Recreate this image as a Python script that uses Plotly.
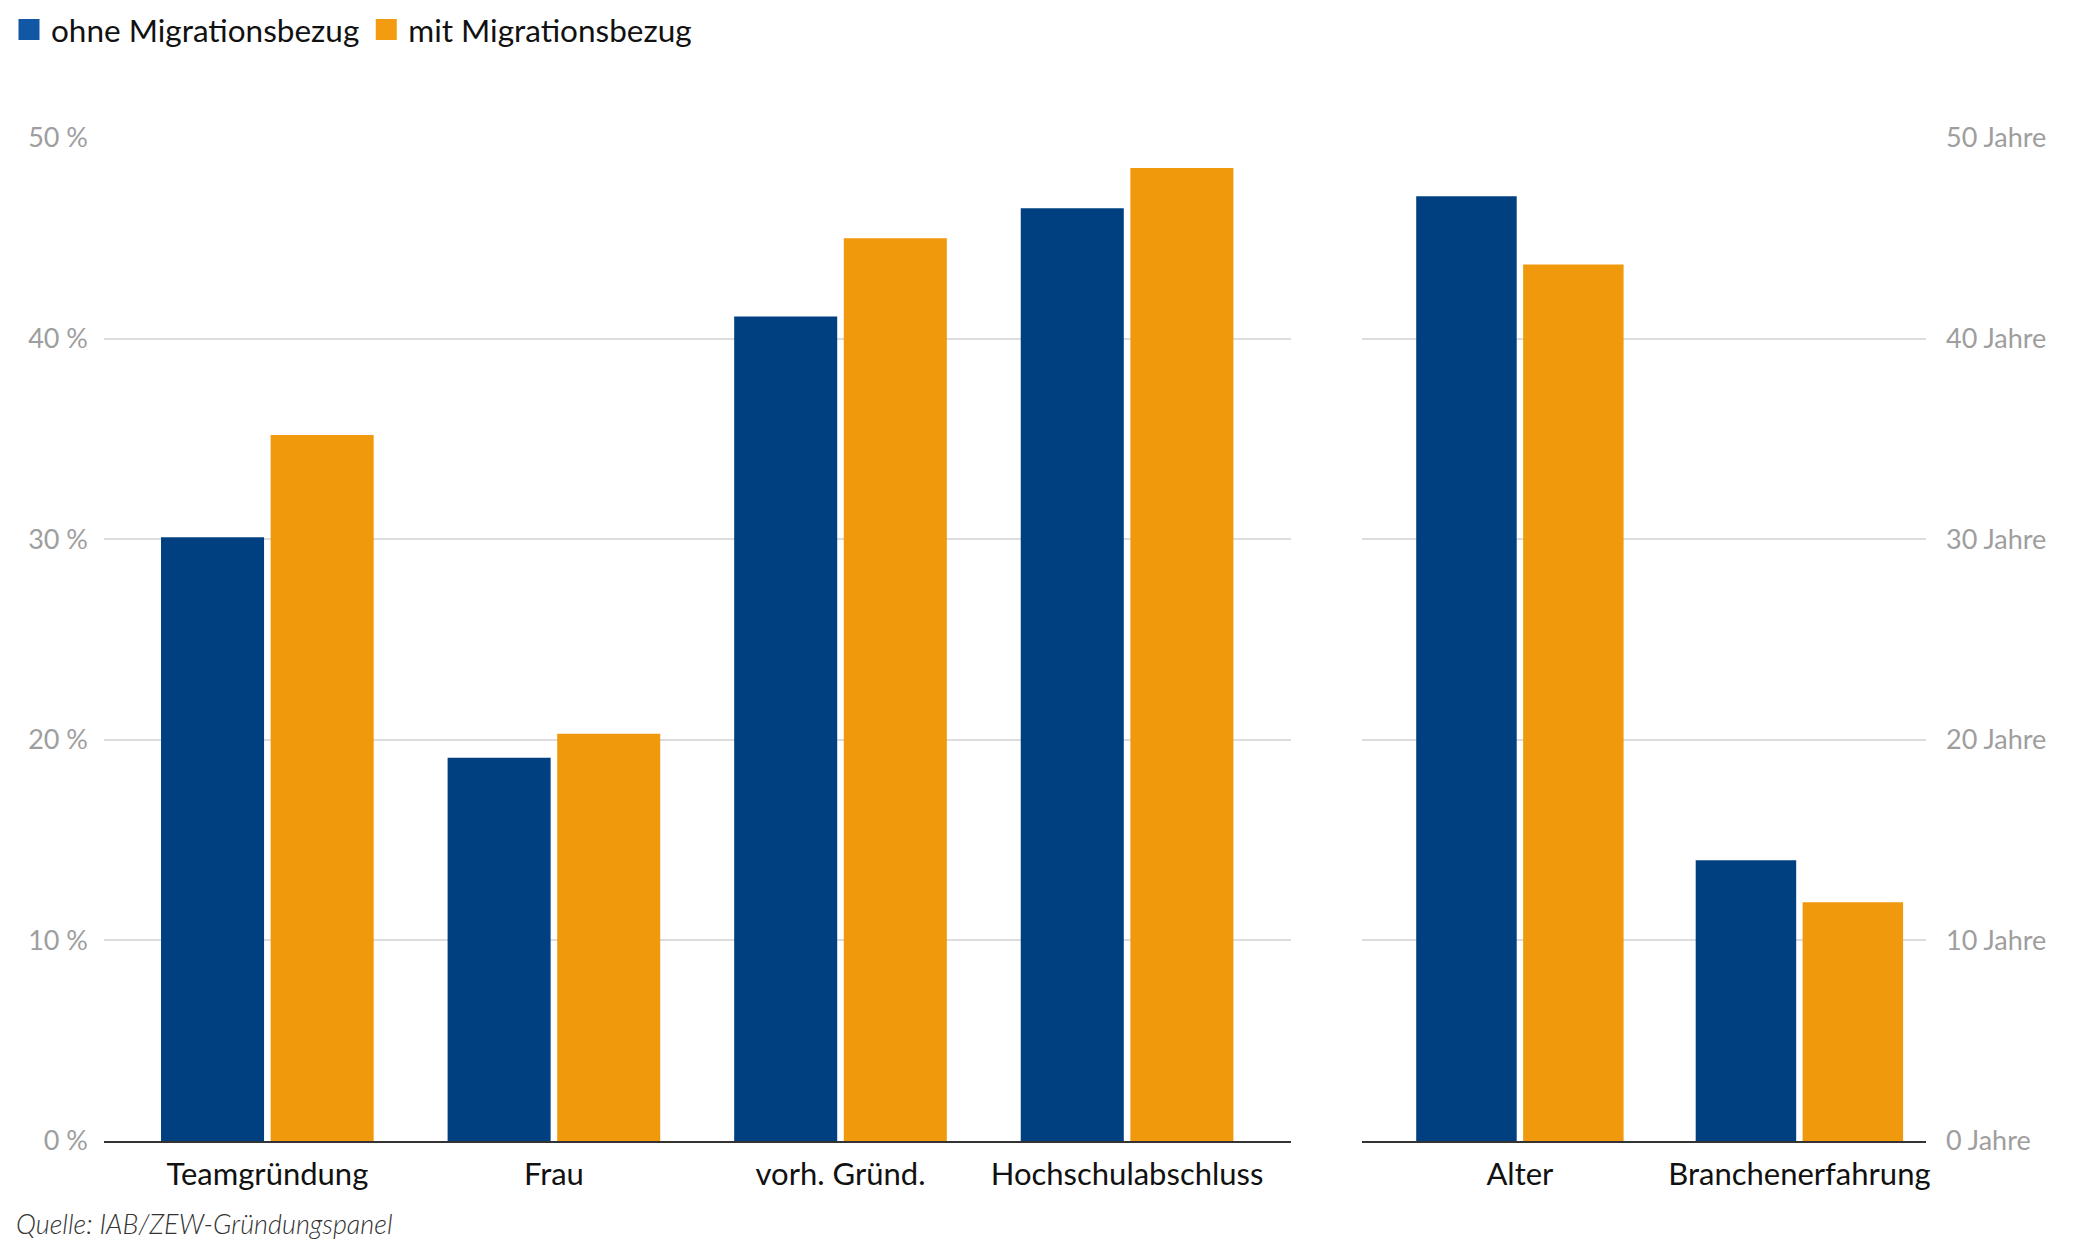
import plotly.graph_objects as go

# Data
cat_pct = ["Teamgründung", "Frau", "vorh. Gründ.", "Hochschulabschluss"]
ohne_pct = [30.1, 19.1, 41.1, 46.5]
mit_pct = [35.2, 20.3, 45.0, 48.5]

cat_jahre = ["Alter", "Branchenerfahrung"]
ohne_jahre = [47.1, 14.0]
mit_jahre = [43.7, 11.9]

series_names = ["ohne Migrationsbezug", "mit Migrationsbezug"]
y_ticks = [0, 10, 20, 30, 40, 50]
y_ticktext_pct = [f"{v} %" for v in y_ticks]
y_ticktext_jahre = [f"{v} Jahre" for v in y_ticks]
source_text = "Quelle: IAB/ZEW-Gründungspanel"

BLUE = "#004080"
ORANGE = "#f0990d"
LEG_BLUE = "#1256a6"
LEG_ORANGE = "#f39c12"
FONT = "Lato"

fig = go.Figure()

fig.add_trace(go.Bar(x=cat_pct, y=ohne_pct, name=series_names[0], marker_color=BLUE,
                     marker_line_width=0, showlegend=False, xaxis="x", yaxis="y"))
fig.add_trace(go.Bar(x=cat_pct, y=mit_pct, name=series_names[1], marker_color=ORANGE,
                     marker_line_width=0, showlegend=False, xaxis="x", yaxis="y"))
fig.add_trace(go.Bar(x=cat_jahre, y=ohne_jahre, name=series_names[0], marker_color=BLUE,
                     marker_line_width=0, showlegend=False, xaxis="x2", yaxis="y2"))
fig.add_trace(go.Bar(x=cat_jahre, y=mit_jahre, name=series_names[1], marker_color=ORANGE,
                     marker_line_width=0, showlegend=False, xaxis="x2", yaxis="y2"))

# legend entries
for nm, col in zip(series_names, [LEG_BLUE, LEG_ORANGE]):
    fig.add_trace(go.Scatter(x=[None], y=[None], mode="markers", name=nm,
                             marker=dict(symbol="square", size=16, color=col,
                                         line=dict(color=col, width=5)),
                             xaxis="x", yaxis="y"))

W, H = 2083, 1247
ml, mt, mb = 104, 138, H - 1141
right_end = 1926
mr = W - right_end
pw = W - ml - mr
ph = H - mt - mb
d1 = (1291 - ml) / pw
d2 = (1362 - ml) / pw

tickfont = dict(family=FONT, size=27, color="#9e9e9e")
catfont = dict(family=FONT, size=31, color="#111111")

fig.update_layout(
    width=W, height=H, autosize=False,
    margin=dict(l=ml, r=mr, t=mt, b=mb, pad=0),
    paper_bgcolor="white", plot_bgcolor="white",
    barmode="group", bargap=0.235, bargroupgap=0.06,
    font=dict(family=FONT, color="#111111"),
    xaxis=dict(domain=[0, d1], type="category", range=[-0.570, 3.572],
               showline=True, linecolor="#333333", linewidth=2,
               showgrid=False, ticks="", tickfont=catfont, ticklabelstandoff=5,
               anchor="y", fixedrange=True),
    yaxis=dict(range=[0, 50], tickmode="array", tickvals=y_ticks, ticktext=y_ticktext_pct,
               showgrid=True, gridcolor="#dddddd", gridwidth=2,
               zeroline=False, showline=False, ticks="",
               tickfont=tickfont, ticklabelstandoff=15, anchor="x"),
    xaxis2=dict(domain=[d2, 1], type="category", range=[-0.565, 1.453],
                showline=True, linecolor="#333333", linewidth=2,
                showgrid=False, ticks="", tickfont=catfont, ticklabelstandoff=5,
                anchor="y2"),
    yaxis2=dict(range=[0, 50], tickmode="array", tickvals=y_ticks, ticktext=y_ticktext_jahre,
                side="right",
                showgrid=True, gridcolor="#dddddd", gridwidth=2,
                zeroline=False, showline=False, ticks="",
                tickfont=tickfont, ticklabelstandoff=19, anchor="x2"),
    legend=dict(orientation="h", xref="container", yref="container",
                x=7 / W, y=0.998, xanchor="left", yanchor="top",
                font=dict(family=FONT, size=31.5, color="#111111"),
                itemsizing="trace", itemwidth=34, tracegroupgap=0,
                bgcolor="rgba(0,0,0,0)"),
    annotations=[dict(text=source_text, xref="paper", yref="paper",
                      x=-ml / pw, y=-(1223 - 1141) / ph,
                      xanchor="left", yanchor="middle", showarrow=False,
                      xshift=14,
                      font=dict(family=FONT, size=27, color="#333333", style="italic",
                                weight=300))],
)

fig.write_html("out.html", config={"displayModeBar": False},
               post_script="document.body.style.margin='0';document.body.style.padding='0';")
